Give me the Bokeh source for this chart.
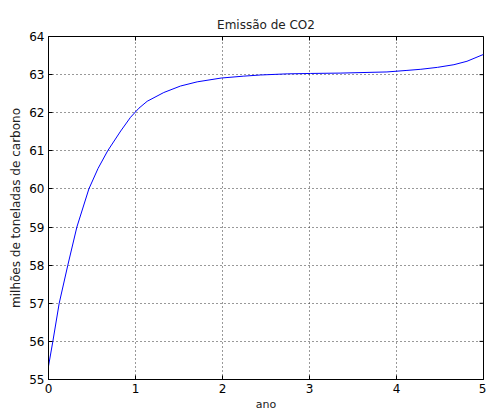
import math
from bokeh.plotting import figure
from bokeh.models import FixedTicker, Range1d
from bokeh.embed import file_html
from bokeh.resources import INLINE

anos = [0.0, 0.05, 0.123, 0.222, 0.326, 0.464, 0.57, 0.68, 0.83, 0.943, 1.04, 1.134, 1.325,
        1.517, 1.709, 1.985, 2.245, 2.437, 2.744, 3.01, 3.36, 3.89,
        4.12, 4.28, 4.47, 4.66, 4.81, 5.0]
emissao = [55.35, 56.0, 57.0, 58.0, 59.0, 60.0, 60.54, 61.0, 61.52, 61.88, 62.12, 62.3, 62.53,
           62.70, 62.81, 62.91, 62.96, 62.99, 63.02, 63.03, 63.04, 63.07,
           63.11, 63.14, 63.19, 63.26, 63.35, 63.53]
x_ticks = [0, 1, 2, 3, 4, 5]
y_ticks = [55, 56, 57, 58, 59, 60, 61, 62, 63, 64]

FONT = "DejaVu Sans"

p = figure(width=486, height=414, output_backend="svg", toolbar_location=None,
           x_range=Range1d(0, 5), y_range=Range1d(55, 64),
           title="Emissão de CO2",
           min_border_left=48, min_border_right=3, min_border_top=36, min_border_bottom=35)

p.title.align = "center"
p.title.text_font = FONT
p.title.text_font_size = "12px"
p.title.text_font_style = "normal"
p.title.text_color = "#222222"

p.line(anos, emissao, line_color="#0000ff", line_width=1)

p.outline_line_color = "black"
p.outline_line_width = 1
p.background_fill_color = "white"
p.border_fill_color = "white"

for ax in (p.xaxis[0], p.yaxis[0]):
    ax.major_tick_in = 4
    ax.major_tick_out = 0
    ax.minor_tick_in = 0
    ax.minor_tick_out = 0
    ax.axis_line_color = "black"
    ax.major_tick_line_color = "black"
    ax.major_label_text_font = FONT
    ax.major_label_text_font_size = "12px"
    ax.major_label_text_color = "black"
    ax.axis_label_text_font = FONT
    ax.axis_label_text_font_style = "normal"
    ax.axis_label_text_color = "#222222"

p.xaxis[0].axis_label_text_font_size = "11px"
p.yaxis[0].axis_label_text_font_size = "12px"
p.xaxis[0].ticker = FixedTicker(ticks=x_ticks)
p.yaxis[0].ticker = FixedTicker(ticks=y_ticks)
p.xaxis[0].axis_label = "ano"
p.yaxis[0].axis_label = "milhões de toneladas de carbono"
p.xaxis[0].major_label_standoff = 4
p.yaxis[0].major_label_standoff = 4
p.xaxis[0].axis_label_standoff = 2
p.yaxis[0].axis_label_standoff = 3

# inward ticks on the top and right edges of the box
p.ray(x=x_ticks, y=[64] * len(x_ticks), length=4, length_units="screen",
      angle=-math.pi / 2, line_color="black", line_width=1)
p.ray(x=[5] * len(y_ticks), y=y_ticks, length=4, length_units="screen",
      angle=math.pi, line_color="black", line_width=1)

for g in (p.xgrid[0], p.ygrid[0]):
    g.grid_line_color = "#333333"
    g.grid_line_dash = "1 3"
    g.grid_line_width = 1

p.xgrid[0].ticker = FixedTicker(ticks=x_ticks)
p.ygrid[0].ticker = FixedTicker(ticks=y_ticks)

open("out.html", "w").write(file_html(p, INLINE))
